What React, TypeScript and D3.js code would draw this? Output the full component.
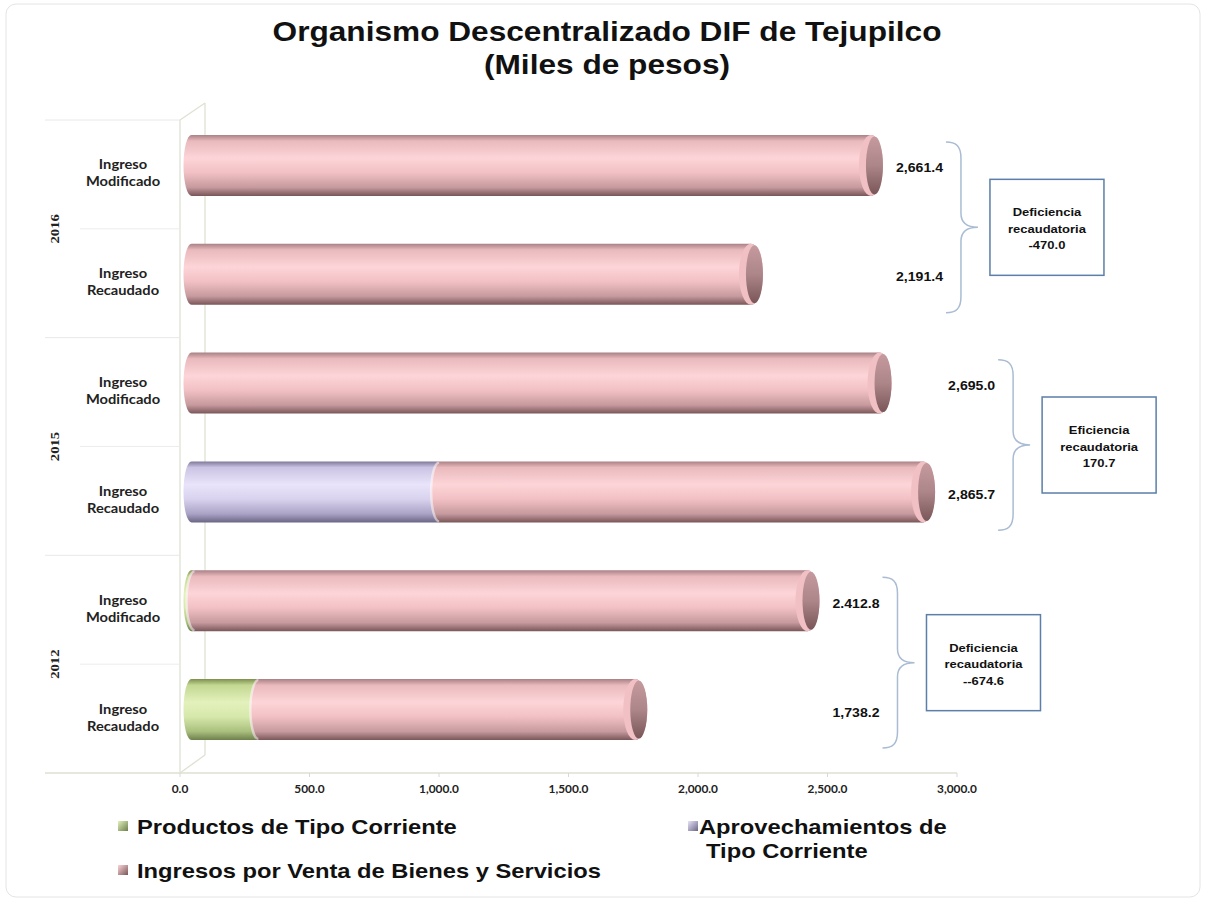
import React from 'react'
import * as d3 from 'd3'

// chart data (Miles de pesos)
const years = ['2016', '2015', '2012']
const rowLabels = ['Ingreso Modificado', 'Ingreso Recaudado', 'Ingreso Modificado', 'Ingreso Recaudado', 'Ingreso Modificado', 'Ingreso Recaudado']
const rowYears = ['2016', '2016', '2015', '2015', '2012', '2012']
const seriesNames = ['Productos de Tipo Corriente', 'Aprovechamientos de Tipo Corriente', 'Ingresos por Venta de Bienes y Servicios']
const productos = [0, 0, 0, 0, 12, 262]
const aprovechamientos = [0, 0, 0, 970, 0, 0]
const ventaBienes = [2661.4, 2191.4, 2695.0, 1895.7, 2400.8, 1476.2]
const totalLabels = ['2,661.4', '2,191.4', '2,695.0', '2,865.7', '2.412.8', '1,738.2']
const noteLines = [
    ['Deficiencia', 'recaudatoria', '-470.0'],
    ['Eficiencia', 'recaudatoria', '170.7'],
    ['Deficiencia', 'recaudatoria', '--674.6'],
]
const xTicks = [0, 500, 1000, 1500, 2000, 2500, 3000]

const W = 1206
const H = 905
const SX = 1.13 // the source image is stretched sideways
const SANS = '"Liberation Sans", Arial, sans-serif'
const CAL = 'Lato, "Open Sans", sans-serif'

const palettes = [
    { stops: ['#7d9050', '#c3d892', '#e3f1bc', '#d6e8ab', '#a9bf7d', '#6d7f4c'] },
    { stops: ['#7f7898', '#cbc4e4', '#e9e4fa', '#d8d2ee', '#aaa3c5', '#6b6585'] },
    { stops: ['#a98185', '#e9b9bd', '#fdd5d8', '#f1c0c4', '#c69a9e', '#7a5659'] },
]
const stopOffsets = [0, 0.1, 0.38, 0.62, 0.86, 1]

const Txt = ({ x, y, size, anchor = 'middle', family = SANS, weight = 'bold', children, fill = '#111', rotate = 0 }: any) => (
    <text
        transform={`translate(${x},${y}) rotate(${rotate}) scale(${SX},1)`}
        fontSize={size}
        fontFamily={family}
        fontWeight={weight}
        textAnchor={anchor}
        fill={fill}
    >
        {children}
    </text>
)

const bracePath = (x0: number, y0: number, y1: number) => {
    const sp = x0 + 15
    const tip = x0 + 32
    const ym = (y0 + y1) / 2
    return `M${x0},${y0} C${x0 + 10},${y0} ${sp},${y0 + 4} ${sp},${y0 + 16} L${sp},${ym - 14} C${sp},${ym - 4} ${sp + 6},${ym} ${tip},${ym} C${sp + 6},${ym} ${sp},${ym + 4} ${sp},${ym + 14} L${sp},${y1 - 16} C${sp},${y1 - 4} ${x0 + 10},${y1} ${x0},${y1}`
}

const App = () => {
    const rows = rowLabels.map((label, i) => ({
        id: `${rowYears[i]}-${i}`,
        label,
        year: rowYears[i],
        s0: productos[i],
        s1: aprovechamientos[i],
        s2: ventaBienes[i],
    }))
    const stacked = d3.stack<any>().keys(['s0', 's1', 's2'])(rows)

    const axisX = d3.scaleLinear().domain([0, 3000]).range([180, 957])
    const barX = d3.scaleLinear().domain([0, 3000]).range([191.5, 957.4])
    const yRow = d3.scaleBand().domain(rows.map((r) => r.id)).range([120, 773])
    const yYear = d3.scaleBand().domain(years).range([120, 773])
    const fmt = d3.format(',.1f')

    const barH = 61
    const ry = barH / 2
    const rxEnd = 12
    const rxStart = 8
    const rowCenter = (id: string) => (yRow(id) as number) + yRow.bandwidth() / 2 - 9

    // body with convex left end; the last piece also gets a convex right end
    const segPath = (x0: number, x1: number, cy: number, last: boolean) =>
        `M${x0},${cy - ry} L${x1},${cy - ry} ` +
        (last ? `A${rxEnd},${ry} 0 0 1 ${x1},${cy + ry} ` : `L${x1},${cy + ry} `) +
        `L${x0},${cy + ry} A${rxStart},${ry} 0 0 1 ${x0},${cy - ry} Z`

    return (
        <svg width={W} height={H} style={{ position: 'absolute', left: 0, top: 0, background: '#fff' }}>
            <defs>
                {palettes.map((p, k) => (
                    <linearGradient key={k} id={`body-${k}`} x1="0" y1="0" x2="0" y2="1">
                        {p.stops.map((c, j) => <stop key={j} offset={stopOffsets[j]} stopColor={c} />)}
                    </linearGradient>
                ))}
                {palettes.map((p, k) => (
                    <linearGradient key={k} id={`cap-${k}`} x1="0" y1="0" x2="0" y2="1">
                        <stop offset="0" stopColor={p.stops[4]} />
                        <stop offset="0.5" stopColor={d3.color(p.stops[4])!.darker(0.4).toString()} />
                        <stop offset="1" stopColor={p.stops[5]} />
                    </linearGradient>
                ))}
                {palettes.map((p, k) => (
                    <linearGradient key={k} id={`mk-${k}`} x1="0" y1="0" x2="1" y2="1">
                        <stop offset="0" stopColor={p.stops[2]} />
                        <stop offset="1" stopColor={p.stops[5]} />
                    </linearGradient>
                ))}
            </defs>

            <rect x={6} y={4} width={1194} height={893} rx={10} fill="#fff" stroke="#e4e4e4" />

            <Txt x={607} y={41} size={28}>Organismo Descentralizado DIF de Tejupilco</Txt>
            <Txt x={607} y={74} size={28}>(Miles de pesos)</Txt>

            {/* 3D back wall edges */}
            <g stroke="#dde2d2" strokeWidth={1.3} fill="none">
                <line x1={180} y1={120} x2={180} y2={773} />
                <line x1={205} y1={103} x2={205} y2={755} />
                <line x1={180} y1={120} x2={205} y2={103} />
                <line x1={180} y1={773} x2={205} y2={755} />
                <line x1={45} y1={773} x2={957} y2={773} />
            </g>
            {years.map((y) => (
                <line key={y} x1={45} x2={180} y1={yYear(y)} y2={yYear(y)} stroke="#e8e8e8" />
            ))}
            {rows.filter((_, i) => i % 2 === 1).map((r) => (
                <line key={r.id} x1={80} x2={180} y1={yRow(r.id)} y2={yRow(r.id)} stroke="#ececec" />
            ))}

            {/* x axis */}
            {xTicks.map((t) => (
                <g key={t}>
                    <line x1={axisX(t)} x2={axisX(t)} y1={773} y2={777} stroke="#d8d8d8" />
                    <Txt x={axisX(t)} y={793} size={10.5} family={CAL} fill="#222">{fmt(t)}</Txt>
                </g>
            ))}

            {/* row and year labels */}
            {rows.map((r) => {
                const cy = rowCenter(r.id)
                const [a, b] = r.label.split(' ')
                return (
                    <g key={r.id}>
                        <Txt x={123} y={cy + 4} size={13} family={CAL} fill="#222">{a}</Txt>
                        <Txt x={123} y={cy + 21} size={13} family={CAL} fill="#222">{b}</Txt>
                    </g>
                )
            })}
            {years.map((y) => (
                <Txt key={y} x={59} y={(yYear(y) as number) + yYear.bandwidth() / 2} size={13} family='"Liberation Serif", serif' rotate={-90} fill="#222">
                    {y}
                </Txt>
            ))}

            {/* cylinders */}
            {rows.map((r, i) => {
                const cy = rowCenter(r.id)
                const segs = stacked
                    .map((s, k) => ({ k, x0: barX(s[i][0]), x1: barX(s[i][1]) }))
                    .filter((s) => s.x1 > s.x0)
                const last = segs[segs.length - 1]
                return (
                    <g key={r.id}>
                        {segs.map((s, j) => (
                            <g key={s.k}>
                                <path d={segPath(s.x0, s.x1, cy, s === last)} fill={`url(#body-${s.k})`} />
                                {j > 0 && (
                                    <path
                                        d={`M${s.x0},${cy - ry + 1} A${rxStart},${ry - 1} 0 0 0 ${s.x0},${cy + ry - 1}`}
                                        fill="none"
                                        stroke="#ffffff"
                                        strokeOpacity={0.5}
                                        strokeWidth={2.5}
                                    />
                                )}
                            </g>
                        ))}
                        <ellipse cx={last.x1} cy={cy} rx={rxEnd} ry={ry} fill={palettes[last.k].stops[3]} />
                        <ellipse cx={last.x1 + 3.5} cy={cy} rx={rxEnd - 3.5} ry={ry - 1.5} fill={`url(#cap-${last.k})`} />
                    </g>
                )
            })}

            {/* totals, braces and notes per year */}
            {years.map((y, g) => {
                const idx = rows.map((r, i) => (r.year === y ? i : -1)).filter((i) => i >= 0)
                const groupMax = d3.max(idx, (i) => productos[i] + aprovechamientos[i] + ventaBienes[i]) as number
                const endX = barX(groupMax)
                const top = (yYear(y) as number) + 22
                const bot = (yYear(y) as number) + yYear.bandwidth() - 25
                const bx = endX + 75
                const boxX = bx + 44
                const boxC = (top + bot) / 2
                return (
                    <g key={y}>
                        {idx.map((i) => (
                            <Txt key={i} x={endX + 25} y={rowCenter(rows[i].id) + 7} size={12.5} anchor="start" fill="#111">
                                {totalLabels[i]}
                            </Txt>
                        ))}
                        <path d={bracePath(bx, top, bot)} fill="none" stroke="#a9bcd3" strokeWidth={1.5} />
                        <rect x={boxX} y={boxC - 48} width={114} height={96} fill="#fff" stroke="#5b7fa8" strokeWidth={1.5} />
                        {noteLines[g].map((t, j) => (
                            <Txt key={j} x={boxX + 57} y={boxC - 11 + j * 16.5} size={11.5} fill="#111">{t}</Txt>
                        ))}
                    </g>
                )
            })}

            {/* legend */}
            <rect x={118} y={821} width={10} height={10} fill="url(#mk-0)" />
            <Txt x={137} y={834} size={21} anchor="start">{seriesNames[0]}</Txt>
            <rect x={118} y={865} width={10} height={10} fill="url(#mk-2)" />
            <Txt x={137} y={878} size={21} anchor="start">{seriesNames[2]}</Txt>
            <rect x={688} y={821} width={10} height={10} fill="url(#mk-1)" />
            <Txt x={699} y={834} size={21} anchor="start">{seriesNames[1].split(' ').slice(0, 2).join(' ')}</Txt>
            <Txt x={706} y={858} size={21} anchor="start">{seriesNames[1].split(' ').slice(2).join(' ')}</Txt>
        </svg>
    )
}

export default App
